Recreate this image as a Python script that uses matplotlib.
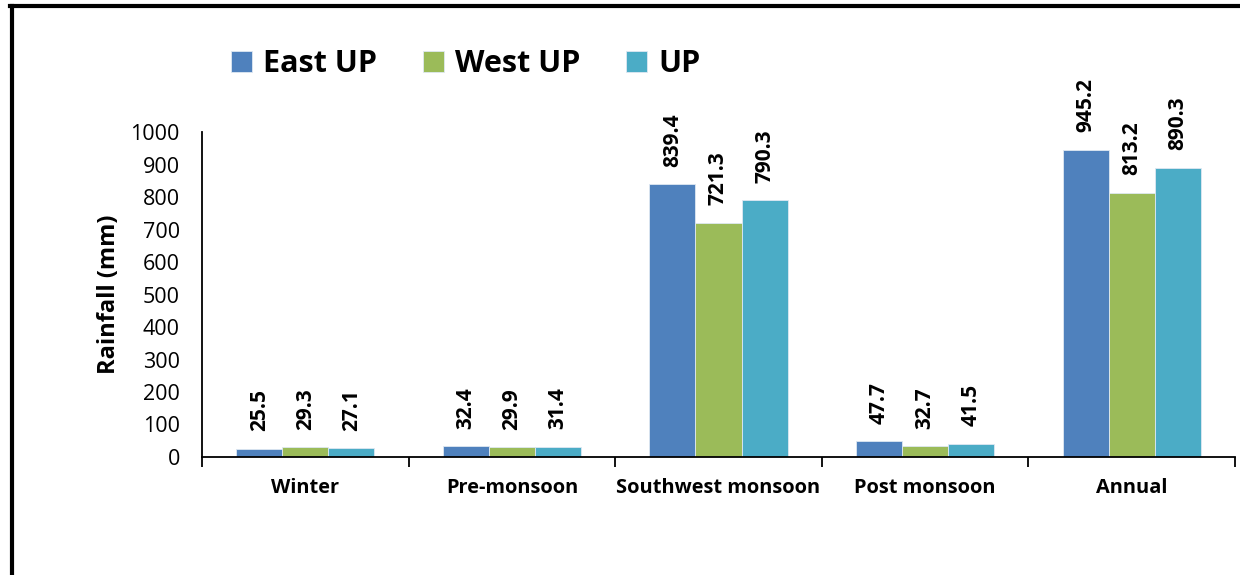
import matplotlib.pyplot as plt
import numpy as np
from matplotlib.lines import Line2D

plt.rcParams['font.family'] = ['Open Sans', 'DejaVu Sans']

# donnees (pluie saisonniere, mm)
seasons = ['Winter', 'Pre-monsoon', 'Southwest monsoon', 'Post monsoon', 'Annual']
east_up = [25.5, 32.4, 839.4, 47.7, 945.2]
west_up = [29.3, 29.9, 721.3, 32.7, 813.2]
up = [27.1, 31.4, 790.3, 41.5, 890.3]
series_names = ['East UP', 'West UP', 'UP']
colors = ['#4F81BD', '#9BBB59', '#4BACC6']
yticks = [0, 100, 200, 300, 400, 500, 600, 700, 800, 900, 1000]

fig = plt.figure(figsize=(12.4, 5.75), dpi=100)
ax = fig.add_axes([202/1240, 1-457/575, 1033/1240, 325/575])

x = np.arange(len(seasons))
w = 0.223
for k, (vals, name, c) in enumerate(zip([east_up, west_up, up], series_names, colors)):
    bars = ax.bar(x + (k-1)*w, vals, w, color=c, edgecolor='#dfe8f2', linewidth=0.6, label=name)
    for b, v in zip(bars, vals):
        ax.annotate('%.1f' % v, (b.get_x() + b.get_width()/2, v), xytext=(0, 12.5),
                    textcoords='offset points', ha='center', va='bottom',
                    rotation=90, fontsize=15, fontweight='bold', annotation_clip=False)

ax.set_xlim(-0.5, len(seasons)-0.5)
ax.set_ylim(0, 1000)
ax.set_yticks(yticks)
ax.set_yticklabels([str(v) for v in yticks], fontsize=15.5)
ax.tick_params(axis='y', length=0, pad=16)
ax.set_xticks(x)
ax.set_xticklabels(seasons, fontsize=14.4, fontweight='bold')
ax.set_xticks(np.arange(-0.5, len(seasons)), minor=True)
ax.tick_params(axis='x', which='major', length=0, pad=15)
ax.tick_params(axis='x', which='minor', length=7, width=1.3, direction='out')
for s in ['top', 'right']:
    ax.spines[s].set_visible(False)
for s in ['left', 'bottom']:
    ax.spines[s].set_linewidth(1.3)
ax.set_ylabel('Rainfall (mm)', fontsize=17, fontweight='bold')
ax.yaxis.set_label_coords(-0.078, 0.5)

fig.legend(loc='center left', bbox_to_anchor=(0.164, 0.888), ncol=3, frameon=False,
           prop={'size': 22, 'weight': 'bold'}, handlelength=0.7, handleheight=0.7,
           handletextpad=0.35, columnspacing=1.5)

# cadre noir (gauche et haut)
fig.add_artist(Line2D([12/1240, 12/1240], [0, 1-6/575], color='black', lw=3, transform=fig.transFigure))
fig.add_artist(Line2D([10/1240, 1], [1-6/575, 1-6/575], color='black', lw=3, transform=fig.transFigure))

fig.savefig('out.png', dpi=100)
